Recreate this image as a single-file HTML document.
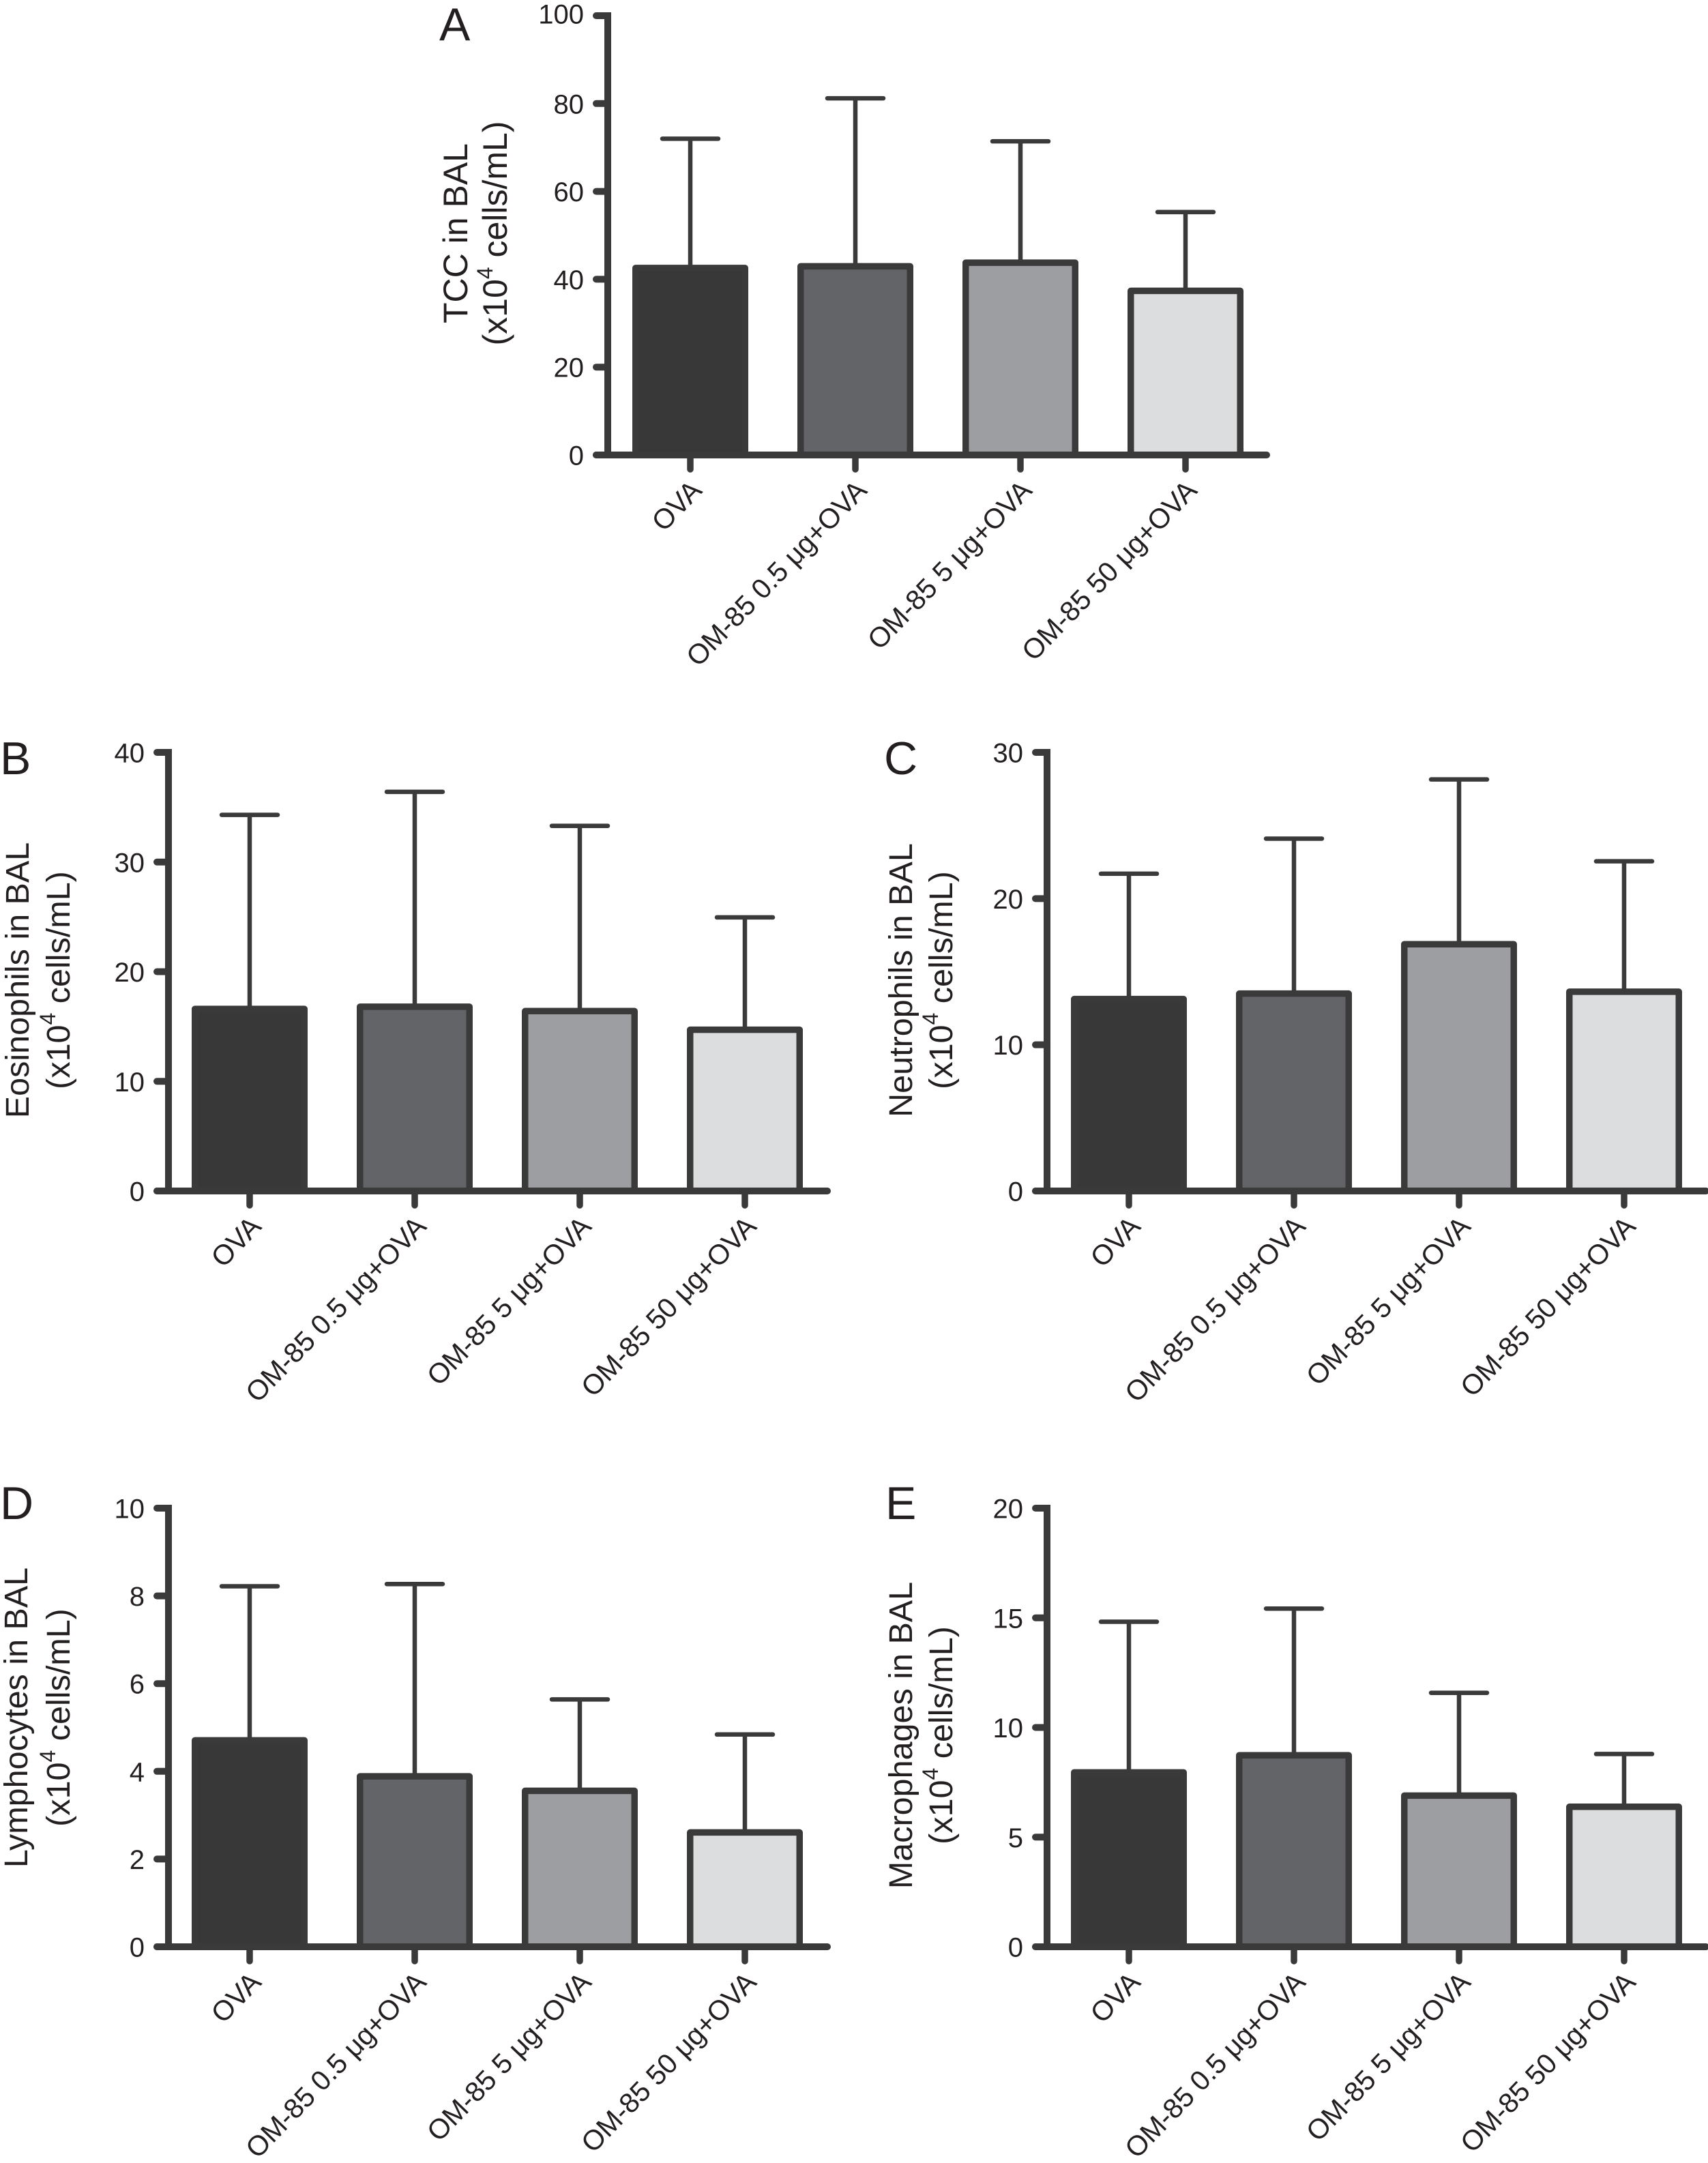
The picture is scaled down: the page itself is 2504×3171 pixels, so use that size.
<!DOCTYPE html>
<html lang="en">
<head>
<meta charset="utf-8">
<title>BAL cell counts, panels A to E</title>
<style>
html,body{margin:0;padding:0;background:#fff;}
svg{display:block;}
text{font-family:"Liberation Sans",Arial,sans-serif;fill:#231f20;}
</style>
</head>
<body>
<svg id="figure" xmlns="http://www.w3.org/2000/svg" width="2504" height="3171" viewBox="0 0 2504 3171"></svg>
<script>
const categories = ['OVA', 'OM-85 0.5 μg+OVA', 'OM-85 5 μg+OVA', 'OM-85 50 μg+OVA'];

const tccMeans = [43.3, 43.7, 44.5, 38.1];
const tccUpper = [72, 81.2, 71.4, 55.3];
const tccTicks = [0, 20, 40, 60, 80, 100];

const eosMeans = [16.9, 17.1, 16.7, 15];
const eosUpper = [34.3, 36.4, 33.3, 24.95];
const eosTicks = [0, 10, 20, 30, 40];

const neuMeans = [13.35, 13.72, 17.1, 13.85];
const neuUpper = [21.7, 24.1, 28.15, 22.55];
const neuTicks = [0, 10, 20, 30];

const lymMeans = [4.78, 3.96, 3.63, 2.68];
const lymUpper = [8.22, 8.27, 5.64, 4.84];
const lymTicks = [0, 2, 4, 6, 8, 10];

const macMeans = [8.1, 8.88, 7.04, 6.53];
const macUpper = [14.82, 15.42, 11.58, 8.79];
const macTicks = [0, 5, 10, 15, 20];

const svg = document.getElementById('figure');
const NS = 'http://www.w3.org/2000/svg';
const INK = '#3a3a3b';
const FILLS = ['#383838', '#636468', '#9d9ea1', '#dcddde'];

function make(parent, tag, attrs, content) {
  const node = document.createElementNS(NS, tag);
  for (const k in attrs) node.setAttribute(k, attrs[k]);
  if (content !== undefined) node.textContent = content;
  parent.appendChild(node);
  return node;
}

function drawPanel(cfg) {
  const g = make(svg, 'g', {});
  
  

  const yMax = cfg.ticks[cfg.ticks.length - 1];
  const yScale = v => cfg.y0 - (v / yMax) * (cfg.y0 - cfg.yTop);
  const xScale = i => cfg.axisX + cfg.barOffset + i * 242;
  const barHalf = 85;
  const stroke = 9.5;

  const letter = make(g, 'text', {x: cfg.letterX, y: cfg.letterY, 'font-size': 68}, cfg.letter);
  
  

  categories.forEach((name, i) => {
    const cx = xScale(i);
    const topY = yScale(cfg.means[i]);
    const capY = yScale(cfg.upper[i]);

    const stem = make(g, 'line', {x1: cx, x2: cx, y1: capY, y2: topY + 4, stroke: INK, 'stroke-width': 6.5});
    
    

    const cap = make(g, 'line', {x1: cx - 41, x2: cx + 41, y1: capY, y2: capY, stroke: INK, 'stroke-width': 6.5, 'stroke-linecap': 'round'});
    
    

    const bar = make(g, 'rect', {
      x: cx - barHalf + stroke / 2, y: topY + stroke / 2,
      width: 2 * barHalf - stroke, height: Math.max(0, cfg.y0 - topY - stroke / 2),
      fill: FILLS[i], stroke: INK, 'stroke-width': stroke, 'stroke-linejoin': 'round'
    });
    
    

    const xTick = make(g, 'line', {x1: cx, x2: cx, y1: cfg.y0, y2: cfg.y0 + 21, stroke: INK, 'stroke-width': 9.5, 'stroke-linecap': 'round'});
    
    

    const ax = cx + 19, ay = cfg.y0 + 54;
    const lab = make(g, 'text', {x: ax, y: ay, 'font-size': 41, 'text-anchor': 'end', transform: 'rotate(-46 ' + ax + ' ' + ay + ')'}, name);
    
    
  });

  const yAxis = make(g, 'line', {x1: cfg.axisX, x2: cfg.axisX, y1: cfg.yTop - 5, y2: cfg.y0, stroke: INK, 'stroke-width': 10});
  
  

  const xAxis = make(g, 'line', {x1: cfg.axisX - 17, x2: cfg.axisX + 966, y1: cfg.y0, y2: cfg.y0, stroke: INK, 'stroke-width': 10, 'stroke-linecap': 'round'});
  
  

  cfg.ticks.forEach(t => {
    const ty = yScale(t);
    const tick = make(g, 'line', {x1: cfg.axisX - 17, x2: cfg.axisX, y1: ty, y2: ty, stroke: INK, 'stroke-width': 10, 'stroke-linecap': 'round'});
    
    

    const shift = t === 100 ? -3 : 0;
    const tl = make(g, 'text', {x: cfg.axisX - 35, y: ty + 14.5 + shift, 'font-size': 40, 'text-anchor': 'end'}, String(t));
    
    
  });

  const t1 = make(g, 'text', {
    x: 0, y: 0, 'font-size': cfg.titleSize, 'text-anchor': 'middle',
    transform: 'translate(' + cfg.titleX1 + ' ' + cfg.titleY + ') rotate(-90)'
  }, cfg.title);
  
  

  const t2 = make(g, 'text', {
    x: 0, y: 0, 'font-size': cfg.titleSize, 'text-anchor': 'middle',
    transform: 'translate(' + cfg.titleX2 + ' ' + cfg.titleY + ') rotate(-90)'
  });
  
  
  make(t2, 'tspan', {}, '(x10');
  make(t2, 'tspan', {dy: -21, 'font-size': 32}, '4');
  make(t2, 'tspan', {dy: 21}, ' cells/mL)');
}

drawPanel({letter: 'A', title: 'TCC in BAL', means: tccMeans, upper: tccUpper, ticks: tccTicks, barOffset: 121,
  axisX: 891, yTop: 23, y0: 667, letterX: 644, letterY: 59, titleSize: 50, titleX1: 685, titleX2: 743, titleY: 342});
drawPanel({letter: 'B', title: 'Eosinophils in BAL', means: eosMeans, upper: eosUpper, ticks: eosTicks, barOffset: 119,
  axisX: 247, yTop: 1103, y0: 1746, letterX: 0, letterY: 1135, titleSize: 48.5, titleX1: 42, titleX2: 102, titleY: 1437});
drawPanel({letter: 'C', title: 'Neutrophils in BAL', means: neuMeans, upper: neuUpper, ticks: neuTicks, barOffset: 120,
  axisX: 1535, yTop: 1103, y0: 1746, letterX: 1296, letterY: 1135, titleSize: 48.5, titleX1: 1337, titleX2: 1396, titleY: 1437});
drawPanel({letter: 'D', title: 'Lymphocytes in BAL', means: lymMeans, upper: lymUpper, ticks: lymTicks, barOffset: 119,
  axisX: 247, yTop: 2211, y0: 2854, letterX: 0, letterY: 2227, titleSize: 48.5, titleX1: 40, titleX2: 102, titleY: 2518});
drawPanel({letter: 'E', title: 'Macrophages in BAL', means: macMeans, upper: macUpper, ticks: macTicks, barOffset: 120,
  axisX: 1535, yTop: 2211, y0: 2854, letterX: 1298, letterY: 2227, titleSize: 48.5, titleX1: 1337, titleX2: 1396, titleY: 2544});
</script>
</body>
</html>
